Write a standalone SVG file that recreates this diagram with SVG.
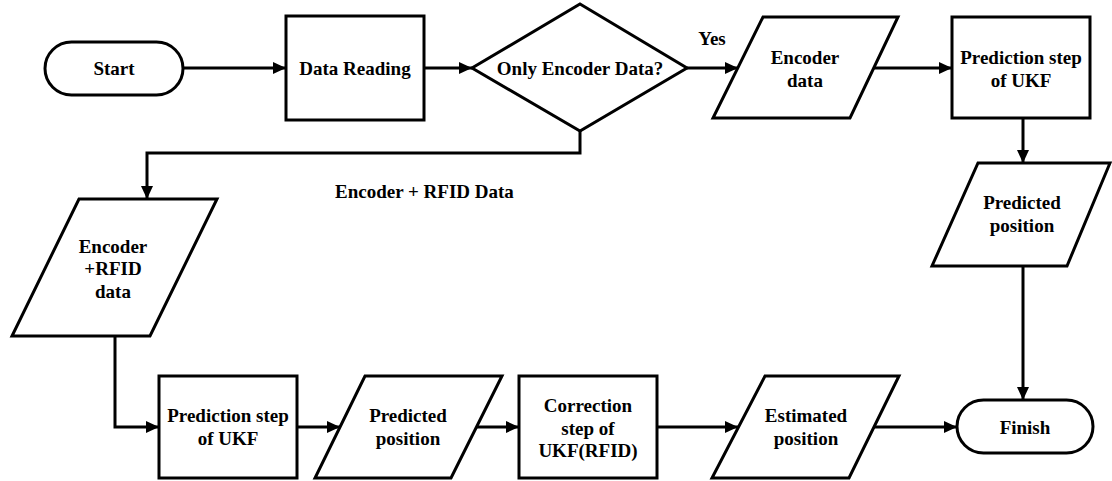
<svg xmlns="http://www.w3.org/2000/svg" width="1112" height="481" viewBox="0 0 1112 481">
  <defs>
    <style>
      .shape { fill: #ffffff; stroke: #000000; stroke-width: 3; stroke-linejoin: miter; }
      .conn { fill: none; stroke: #000000; stroke-width: 3; marker-end: url(#arrow); }
      .plain { fill: none; stroke: #000000; stroke-width: 3; }
      text { font-family: "Liberation Serif", "Times New Roman", serif; font-weight: bold; font-size: 19px; fill: #000000; }
      .c { text-anchor: middle; }
    </style>
    <marker id="arrow" markerUnits="userSpaceOnUse" markerWidth="14" markerHeight="14" refX="13" refY="7" orient="auto">
      <path d="M0,1 L13,7 L0,13 z" fill="#000000"/>
    </marker>
  </defs>
  <rect width="1112" height="481" fill="#ffffff"/>

  <g id="connectors">
    <path class="conn" d="M183,68 H286"/>
    <path class="conn" d="M424,68 H472"/>
    <path class="conn" d="M687,68 H738"/>
    <path class="conn" d="M873,68 H952"/>
    <path class="conn" d="M1023,118 V163"/>
    <path class="conn" d="M1023,266 V400"/>
    <path class="conn" d="M580,131 V153 H147 V199"/>
    <path class="conn" d="M115,336 V427 H159"/>
    <path class="conn" d="M297,427 H340"/>
    <path class="conn" d="M476,427 H519"/>
    <path class="conn" d="M657,427 H738"/>
    <path class="conn" d="M874,427 H957"/>
    <text x="712" y="45" class="c">Yes</text>
    <text x="335" y="198">Encoder + RFID Data</text>
  </g>

  <g id="start">
    <rect class="shape" x="45" y="42" width="138" height="53" rx="26.5" ry="26.5"/>
    <text x="114" y="75" class="c">Start</text>
  </g>

  <g id="data-reading">
    <rect class="shape" x="286" y="16" width="138" height="104"/>
    <text x="355" y="75" class="c">Data Reading</text>
  </g>

  <g id="decision">
    <polygon class="shape" points="580,4 687,68 580,131 472,68"/>
    <text x="580" y="75" class="c">Only Encoder Data?</text>
  </g>

  <g id="encoder-data">
    <polygon class="shape" points="763,17 898,17 850,118 713,118"/>
    <text x="805" y="64" class="c">Encoder</text>
    <text x="805" y="87" class="c">data</text>
  </g>

  <g id="prediction-top">
    <rect class="shape" x="952" y="17" width="138" height="101"/>
    <text x="1021" y="64" class="c">Prediction step</text>
    <text x="1021" y="87" class="c">of UKF</text>
  </g>

  <g id="predicted-right">
    <polygon class="shape" points="978,163 1110,163 1067,266 932,266"/>
    <text x="1022" y="209" class="c">Predicted</text>
    <text x="1022" y="232" class="c">position</text>
  </g>

  <g id="finish">
    <rect class="shape" x="957" y="400" width="136" height="53" rx="26.5" ry="26.5"/>
    <text x="1025" y="434" class="c">Finish</text>
  </g>

  <g id="encoder-rfid-data">
    <polygon class="shape" points="79,199 217,199 150,336 12,336"/>
    <text x="113" y="253" class="c">Encoder</text>
    <text x="113" y="275" class="c">+RFID</text>
    <text x="113" y="298" class="c">data</text>
  </g>

  <g id="prediction-bottom">
    <rect class="shape" x="159" y="376" width="138" height="102"/>
    <text x="228" y="422" class="c">Prediction step</text>
    <text x="228" y="445" class="c">of UKF</text>
  </g>

  <g id="predicted-bottom">
    <polygon class="shape" points="365,376 502,376 451,478 315,478"/>
    <text x="408" y="422" class="c">Predicted</text>
    <text x="408" y="445" class="c">position</text>
  </g>

  <g id="correction">
    <rect class="shape" x="519" y="376" width="138" height="102"/>
    <text x="588" y="412" class="c">Correction</text>
    <text x="588" y="435" class="c">step of</text>
    <text x="588" y="457" class="c">UKF(RFID)</text>
  </g>

  <g id="estimated">
    <polygon class="shape" points="765,376 899,376 849,478 712,478"/>
    <text x="806" y="422" class="c">Estimated</text>
    <text x="806" y="445" class="c">position</text>
  </g>
</svg>
